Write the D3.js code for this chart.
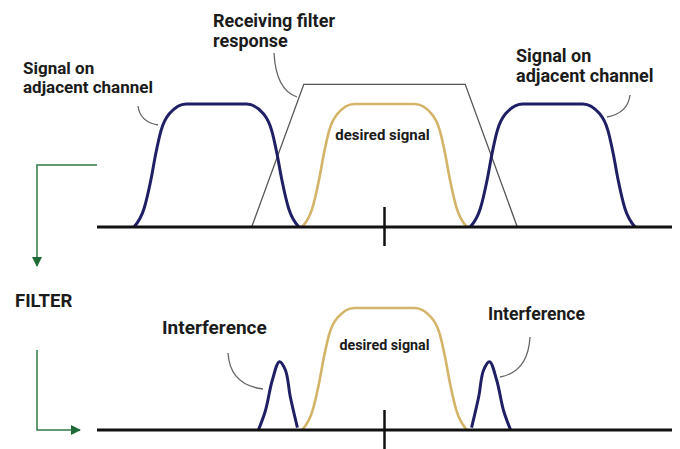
<!DOCTYPE html>
<html>
<head>
<meta charset="utf-8">
<script src="https://cdn.jsdelivr.net/npm/d3@7"></script>
<style>
  html, body { margin: 0; padding: 0; background: #fff; }
  svg text { font-family: Roboto, "Liberation Sans", sans-serif; font-weight: 700; fill: #1b1b1b; }
</style>
</head>
<body>
<svg id="svg-graph" width="680" height="449"></svg>
<script>
// channel spacing = 1 unit, desired channel centred on 0
var xDomain = [-1.71, 1.71]
var channelCenters = [-1, 0, 1]

// flat-top signal shape, offsets from channel centre / relative level
var signalOffsets = [-0.49, -0.43, -0.39, -0.36, -0.33, -0.28, -0.18, 0.18, 0.28, 0.33, 0.36, 0.39, 0.43, 0.49]
var signalLevels  = [0, 0.15, 0.38, 0.6, 0.78, 0.92, 1, 1, 0.92, 0.78, 0.6, 0.38, 0.15, 0]

// receiving filter trapezoid
var filterX     = [-0.79, -0.48, 0.48, 0.79]
var filterLevel = [0, 1.16, 1.16, 0]

// what is left of the adjacent channels after filtering (left side, mirrored on the right)
var interfOffsets = [-0.75, -0.708, -0.667, -0.625, -0.589, -0.56, -0.518]
var interfLevels  = [0, 0.16, 0.41, 0.56, 0.49, 0.27, 0.02]

var labels = {
  filter: ["Receiving filter", "response"],
  adjacent: ["Signal on", "adjacent channel"],
  desired: "desired signal",
  interference: "Interference",
  arrow: "FILTER"
}

var svg = d3.select("#svg-graph")

var x = d3.scaleLinear().domain(xDomain).range([97, 672])
var yTop = d3.scaleLinear().domain([0, 1]).range([227, 104])
var yBot = d3.scaleLinear().domain([0, 1]).range([430, 308])

var navy = "#1f1f66", tan = "#d3b468", grey = "#555", green = "#2f7a45"

function shapeAt(center, offs, levs) {
  return offs.map(function(o, i) { return [center + o, levs[i]] })
}

function lineFor(y) {
  return d3.line()
    .x(function(d) { return x(d[0]) })
    .y(function(d) { return y(d[1]) })
    .curve(d3.curveMonotoneX)
}

svg.append("defs").append("marker")
  .attr("id", "arr")
  .attr("viewBox", "0 0 10 10")
  .attr("refX", 9).attr("refY", 5)
  .attr("markerWidth", 10).attr("markerHeight", 10)
  .attr("markerUnits", "userSpaceOnUse")
  .attr("orient", "auto")
  .append("path").attr("d", "M0,0 L10,5 L0,10 z").attr("fill", "#1f6b35")

function panel(y, top) {
  var g = svg.append("g")
  var line = lineFor(y)

  if (top) {
    g.append("path")
      .datum(filterX.map(function(v, i) { return [v, filterLevel[i]] }))
      .attr("d", d3.line().x(function(d) { return x(d[0]) }).y(function(d) { return y(d[1]) }))
      .attr("fill", "none").attr("stroke", grey).attr("stroke-width", 1.3)

    channelCenters.forEach(function(c) {
      g.append("path")
        .datum(shapeAt(c, signalOffsets, signalLevels))
        .attr("d", line)
        .attr("fill", "none")
        .attr("stroke", c === 0 ? tan : navy)
        .attr("stroke-width", c === 0 ? 2.6 : 3)
    })
  } else {
    g.append("path")
      .datum(shapeAt(0, signalOffsets, signalLevels))
      .attr("d", line)
      .attr("fill", "none").attr("stroke", tan).attr("stroke-width", 2.6)

    ;[1, -1].forEach(function(s) {
      var pts = interfOffsets.map(function(o, i) { return [s * o, interfLevels[i]] })
      if (s < 0) pts.reverse()
      g.append("path")
        .datum(pts)
        .attr("d", d3.line().x(function(d) { return x(d[0]) }).y(function(d) { return y(d[1]) }).curve(d3.curveCatmullRom))
        .attr("fill", "none").attr("stroke", navy).attr("stroke-width", 3)
    })
  }

  g.append("line")
    .attr("x1", x(xDomain[0])).attr("x2", x(xDomain[1]))
    .attr("y1", y(0)).attr("y2", y(0))
    .attr("stroke", "#111").attr("stroke-width", 3)

  g.append("line")
    .attr("x1", x(0)).attr("x2", x(0))
    .attr("y1", y(0) - 20).attr("y2", y(0) + 19)
    .attr("stroke", "#111").attr("stroke-width", 2.5)

  return g
}

var top = panel(yTop, true)
var bot = panel(yBot, false)

function leader(d) {
  svg.append("path").attr("d", d)
    .attr("fill", "none").attr("stroke", "#666").attr("stroke-width", 1.3)
}
leader("M138,106 Q140,122 158,125")
leader("M274,53 Q276,90 297,97")
leader("M630,95 Q628,113 607,117")
leader("M228,353 Q230,385 263,389")
leader("M530,337 Q528,372 500,377")

function label(lines, tx, ty, size, gap, anchor) {
  var t = svg.append("text")
    .attr("x", tx).attr("y", ty)
    .attr("font-size", size)
    .attr("text-anchor", anchor || "start")
  lines.forEach(function(l, i) {
    t.append("tspan").attr("x", tx).attr("dy", i ? gap : 0).text(l)
  })
}

label(labels.filter, 213, 27, 18, 20)
label(labels.adjacent, 23, 74, 17, 18.5)
label(labels.adjacent, 516, 62, 18, 20)
label([labels.desired], x(0) - 2, 140, 15, 0, "middle")
label([labels.desired], x(0), 350, 14.3, 0, "middle")
label([labels.interference], 162, 334, 19, 0)
label([labels.interference], 488, 320, 17.6, 0)
label([labels.arrow], 15, 307, 18.5, 0)

// green flow arrows on the left
svg.append("path").attr("d", "M97,165 L37,165 L37,266")
  .attr("fill", "none").attr("stroke", green).attr("stroke-width", 1.5)
  .attr("marker-end", "url(#arr)")
svg.append("path").attr("d", "M37,350 L37,430 L80,430")
  .attr("fill", "none").attr("stroke", green).attr("stroke-width", 1.5)
  .attr("marker-end", "url(#arr)")
</script>
</body>
</html>
